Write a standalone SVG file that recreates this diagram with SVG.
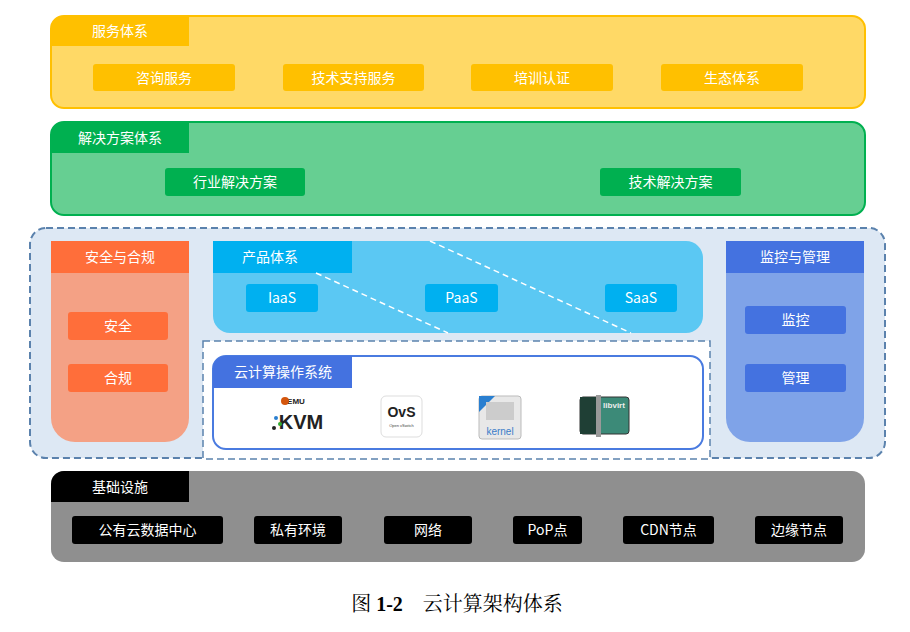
<svg xmlns="http://www.w3.org/2000/svg" width="910" height="632" viewBox="0 0 910 632">
<style>
text{font-family:"Noto Sans CJK SC","Liberation Sans",sans-serif;font-size:14px;fill:#fff;text-anchor:middle;dominant-baseline:central}
.d{stroke-dasharray:6 4;fill:none}
</style>
<rect width="910" height="632" fill="#fff"/>
<g id="services">
<rect x="51" y="16" width="814" height="92" rx="13" fill="#FFD966" stroke="#FFC000" stroke-width="2"/>
<path d="M51 46V29a13 13 0 0 1 13-13H189V46Z" fill="#FFC000"/>
<text x="120" y="30">服务体系</text>
<rect x="93" y="64" width="142" height="27" rx="3" fill="#FFC000"/><text x="164" y="76.5">咨询服务</text>
<rect x="283" y="64" width="141" height="27" rx="3" fill="#FFC000"/><text x="353.5" y="76.5">技术支持服务</text>
<rect x="471" y="64" width="142" height="27" rx="3" fill="#FFC000"/><text x="542" y="76.5">培训认证</text>
<rect x="661" y="64" width="142" height="27" rx="3" fill="#FFC000"/><text x="732" y="76.5">生态体系</text>
</g>
<g id="solutions">
<rect x="51" y="122" width="814" height="93" rx="13" fill="#66CF92" stroke="#00B050" stroke-width="2"/>
<path d="M51 153V135a13 13 0 0 1 13-13H189V153Z" fill="#00B050"/>
<text x="120" y="136.5">解决方案体系</text>
<rect x="165" y="168" width="140" height="28" rx="3" fill="#00B050"/><text x="235" y="181">行业解决方案</text>
<rect x="600" y="168" width="141" height="28" rx="3" fill="#00B050"/><text x="670.5" y="181">技术解决方案</text>
</g>
<g id="middle">
<rect x="30" y="228" width="855" height="230" rx="16" fill="#DDE8F4" stroke="#5B82AD" stroke-width="2" stroke-dasharray="7 4"/>
</g>
<g id="security">
<path d="M51 241H189V418a24 24 0 0 1-24 24H75a24 24 0 0 1-24-24Z" fill="#F4A185"/>
<rect x="51" y="241" width="138" height="32" fill="#FF6E3A"/>
<text x="120" y="256">安全与合规</text>
<rect x="68" y="312" width="100" height="28" rx="3" fill="#FF6E3A"/><text x="118" y="325">安全</text>
<rect x="68" y="364" width="100" height="28" rx="3" fill="#FF6E3A"/><text x="118" y="377">合规</text>
</g>
<g id="product">
<path d="M213 241H686a17 17 0 0 1 17 17V316a17 17 0 0 1-17 17H230a17 17 0 0 1-17-17Z" fill="#5BC8F3"/>
<rect x="213" y="241" width="139" height="32" fill="#00B0F0"/>
<text x="270" y="256">产品体系</text>
<rect x="246" y="284" width="72" height="28" rx="3" fill="#00B0F0"/><text x="282" y="297">IaaS</text>
<rect x="425" y="284" width="73" height="28" rx="3" fill="#00B0F0"/><text x="461.5" y="297">PaaS</text>
<rect x="605" y="284" width="72" height="28" rx="3" fill="#00B0F0"/><text x="641" y="297">SaaS</text>
</g>
<g id="connectors">
<line x1="316" y1="273" x2="448" y2="333" stroke="#fff" stroke-width="1.5" class="d"/>
<line x1="430" y1="241" x2="631" y2="333" stroke="#fff" stroke-width="1.5" class="d"/>
</g>
<g id="os">
<rect x="203" y="341" width="507" height="118" fill="#fff" stroke="#5B82AD" stroke-width="1.5" stroke-dasharray="7 4"/>
<rect x="213" y="356" width="490" height="93" rx="13" fill="#fff" stroke="#4A7BE0" stroke-width="2"/>
<path d="M213 388V369a13 13 0 0 1 13-13H352V388Z" fill="#4472E0"/>
<text x="283" y="371">云计算操作系统</text>
<text x="301" y="422" style="fill:#222;font-size:20px;font-weight:bold;font-family:'Liberation Sans',sans-serif">KVM</text>
<text x="296" y="401" style="fill:#222;font-size:8px;font-weight:bold;font-family:'Liberation Sans',sans-serif">EMU</text>
<circle cx="285" cy="401" r="4" fill="#D4560C"/>
<circle cx="276" cy="418" r="2" fill="#2A7FD0"/><circle cx="280" cy="424" r="2" fill="#3A3"/><circle cx="274" cy="428" r="2" fill="#222"/>
<rect x="381" y="396" width="41" height="41" rx="5" fill="#fff" stroke="#ddd"/>
<text x="401.5" y="412" style="fill:#222;font-size:14px;font-weight:bold;font-family:'Liberation Sans',sans-serif">OvS</text>
<text x="401.5" y="425" style="fill:#444;font-size:4px;font-family:'Liberation Sans',sans-serif">Open vSwitch</text>
<rect x="479" y="396" width="42" height="43" rx="3" fill="#E8E8E8" stroke="#bbb"/>
<path d="M479 412V396H495Z" fill="#2A7FD0"/>
<rect x="486" y="402" width="28" height="18" fill="#ccc"/>
<text x="500" y="431" style="fill:#3A7CC8;font-size:10px;font-family:'Liberation Sans',sans-serif">kernel</text>
<rect x="580" y="397" width="49" height="37" rx="3" fill="#3C8A78" stroke="#333"/>
<rect x="580" y="397" width="16" height="37" fill="#1F3F35"/>
<rect x="596" y="395" width="5" height="42" fill="#999"/>
<text x="614" y="405" style="fill:#eee;font-size:8px;font-weight:bold;font-family:'Liberation Sans',sans-serif">libvirt</text>
</g>
<g id="monitor">
<path d="M726 241H864V418a24 24 0 0 1-24 24H750a24 24 0 0 1-24-24Z" fill="#7FA3E8"/>
<rect x="726" y="241" width="138" height="32" fill="#4472E0"/>
<text x="795" y="256">监控与管理</text>
<rect x="745" y="306" width="101" height="28" rx="3" fill="#4472E0"/><text x="795.5" y="319">监控</text>
<rect x="745" y="364" width="101" height="28" rx="3" fill="#4472E0"/><text x="795.5" y="377">管理</text>
</g>
<g id="infra">
<rect x="51" y="471" width="814" height="91" rx="13" fill="#8F8F8F"/>
<path d="M51 502V484a13 13 0 0 1 13-13H189V502Z" fill="#000"/>
<text x="120" y="485.5">基础设施</text>
<rect x="72" y="516" width="151" height="28" rx="3" fill="#000"/><text x="147.5" y="529">公有云数据中心</text>
<rect x="254" y="516" width="88" height="28" rx="3" fill="#000"/><text x="298" y="529">私有环境</text>
<rect x="384" y="516" width="88" height="28" rx="3" fill="#000"/><text x="428" y="529">网络</text>
<rect x="513" y="516" width="69" height="28" rx="3" fill="#000"/><text x="547.5" y="529">PoP点</text>
<rect x="623" y="516" width="91" height="28" rx="3" fill="#000"/><text x="668.5" y="529">CDN节点</text>
<rect x="755" y="516" width="88" height="28" rx="3" fill="#000"/><text x="799" y="529">边缘节点</text>
</g>
<text x="457" y="604" style="fill:#000;font-size:20px;font-family:'Liberation Serif','Noto Serif CJK SC','Noto Sans CJK SC',serif">图 <tspan font-weight="bold">1-2</tspan>　云计算架构体系</text>
</svg>
